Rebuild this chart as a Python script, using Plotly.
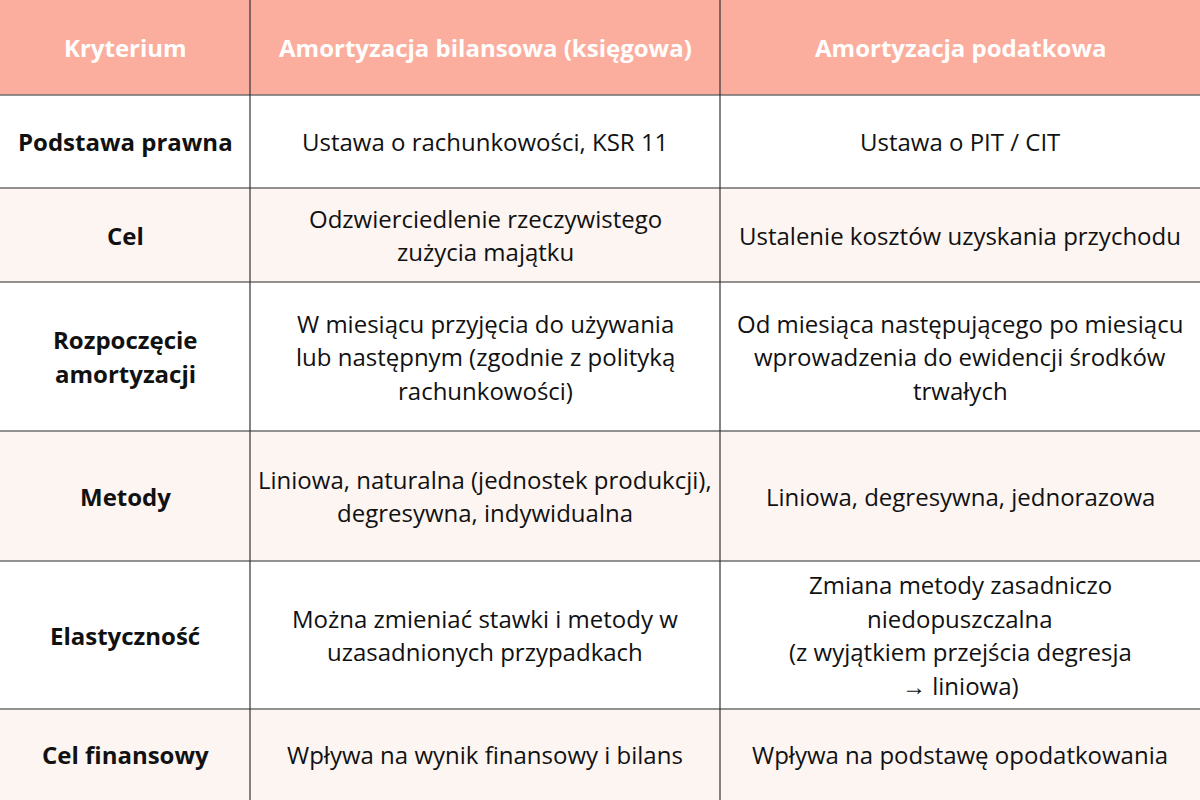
import plotly.graph_objects as go

headers = ["Kryterium", "Amortyzacja bilansowa (księgowa)", "Amortyzacja podatkowa"]
criteria = [
    ["Podstawa prawna"],
    ["Cel"],
    ["Rozpoczęcie", "amortyzacji"],
    ["Metody"],
    ["Elastyczność"],
    ["Cel finansowy"],
]
balance = [
    ["Ustawa o rachunkowości, KSR 11"],
    ["Odzwierciedlenie rzeczywistego", "zużycia majątku"],
    ["W miesiącu przyjęcia do używania", "lub następnym (zgodnie z polityką", "rachunkowości)"],
    ["Liniowa, naturalna (jednostek produkcji),", "degresywna, indywidualna"],
    ["Można zmieniać stawki i metody w", "uzasadnionych przypadkach"],
    ["Wpływa na wynik finansowy i bilans"],
]
tax = [
    ["Ustawa o PIT / CIT"],
    ["Ustalenie kosztów uzyskania przychodu"],
    ["Od miesiąca następującego po miesiącu", "wprowadzenia do ewidencji środków", "trwałych"],
    ["Liniowa, degresywna, jednorazowa"],
    ["Zmiana metody zasadniczo", "niedopuszczalna", "(z wyjątkiem przejścia degresja", "→ liniowa)"],
    ["Wpływa na podstawę opodatkowania"],
]

# layout (pixels)
col_edges = [0, 250, 720, 1200]
row_edges = [0, 95, 188, 282, 431, 561, 709, 800]
line_gap = 33.5
header_fill = "#fcae9e"
stripe = ["#ffffff", "#fdf5f2"]
font = "Open Sans"

fig = go.Figure()
shapes = []
annotations = []

shapes.append(dict(type="rect", x0=0, x1=1200, y0=0, y1=row_edges[1],
                   fillcolor=header_fill, line_width=0, layer="below"))
for i in range(len(criteria)):
    shapes.append(dict(type="rect", x0=0, x1=1200, y0=row_edges[i + 1], y1=row_edges[i + 2],
                       fillcolor=stripe[i % 2], line_width=0, layer="below"))

for y in row_edges[1:-1]:
    shapes.append(dict(type="line", x0=0, x1=1200, y0=y, y1=y, line=dict(color="#6e6e6e", width=1.5)))
for x in col_edges[1:-1]:
    shapes.append(dict(type="line", x0=x, x1=x, y0=0, y1=800, line=dict(color="#333333", width=1.2)))


def cell_text(lines, c, r, color="#111111", bold=False):
    cx = (col_edges[c] + col_edges[c + 1]) / 2
    cy = (row_edges[r] + row_edges[r + 1]) / 2
    n = len(lines)
    for k, t in enumerate(lines):
        annotations.append(dict(
            x=cx, y=cy + (k - (n - 1) / 2) * line_gap, text=f"<b>{t}</b>" if bold else t,
            showarrow=False, xanchor="center", yanchor="middle",
            font=dict(family=font, size=24, color=color)))


for c, h in enumerate(headers):
    cell_text([h], c, 0, color="#ffffff", bold=True)
for r in range(len(criteria)):
    cell_text(criteria[r], 0, r + 1, bold=True)
    cell_text(balance[r], 1, r + 1)
    cell_text(tax[r], 2, r + 1)

fig.update_layout(
    width=1200, height=800, margin=dict(l=0, r=0, t=0, b=0),
    paper_bgcolor="#ffffff", plot_bgcolor="#ffffff",
    xaxis=dict(range=[0, 1200], visible=False, fixedrange=True),
    yaxis=dict(range=[800, 0], visible=False, fixedrange=True),
    shapes=shapes, annotations=annotations, showlegend=False,
)

fig.write_html("out.html", config={"displayModeBar": False},
               post_script="document.body.style.margin='0';document.body.style.overflow='hidden';")
